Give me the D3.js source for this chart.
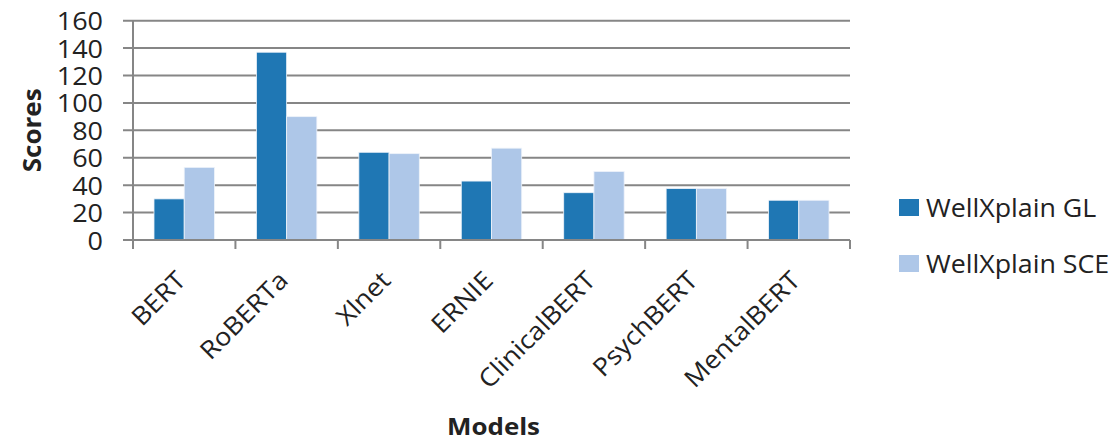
<!DOCTYPE html>
<html>
<head>
<meta charset="utf-8">
<script src="https://cdn.jsdelivr.net/npm/d3@7"></script>
<style>
  html, body { margin: 0; padding: 0; background: #fff; }
  svg { display: block; font-family: "Open Sans", sans-serif; }
</style>
</head>
<body>
<svg id="chart" width="1120" height="441"></svg>
<script>
// Model names along the x axis
const models = ["BERT", "RoBERTa", "Xlnet", "ERNIE", "ClinicalBERT", "PsychBERT", "MentalBERT"];
// Series names and their scores per model
const seriesNames = ["WellXplain GL", "WellXplain SCE"];
const glScores = [30, 137, 64, 43, 34.5, 37.5, 29];
const sceScores = [53, 90, 63, 67, 50, 37.5, 29];
// Y axis tick values
const yTicks = [0, 20, 40, 60, 80, 100, 120, 140, 160];

const colors = ["#1f77b4", "#aec7e8"];
const gridColor = "#868686";
const textColor = "#222";
const stretch = 1.08; // slightly wide lettering

const svg = d3.select("#chart");
const plotLeft = 133, plotRight = 850, plotTop = 20.7, plotBottom = 240;

const x = d3.scaleBand().domain(models).range([plotLeft, plotRight]).padding(0);
const bw = x.bandwidth();
const xs = d3.scaleBand().domain(seriesNames).range([bw * 0.205, bw * 0.795]).padding(0);
const y = d3.scaleLinear().domain([0, 160]).range([plotBottom, plotTop]);

const rows = models.map((m, i) => ({ model: m, values: [glScores[i], sceScores[i]] }));

// Horizontal gridlines (with short ticks left of the axis)
svg.append("g")
  .selectAll("line")
  .data(yTicks)
  .join("line")
  .attr("x1", plotLeft - 10)
  .attr("x2", plotRight)
  .attr("y1", d => y(d))
  .attr("y2", d => y(d))
  .attr("stroke", gridColor)
  .attr("stroke-width", 2);

// Y axis labels
const yAxis = svg.append("g")
  .attr("transform", `translate(${plotLeft},0)`)
  .call(d3.axisLeft(y).tickValues(yTicks).tickSize(0));
yAxis.select(".domain").remove();
yAxis.selectAll("text")
  .attr("x", 0)
  .attr("transform", `translate(-30,1) scale(${stretch},1)`)
  .attr("fill", textColor)
  .style("font-size", "25px")
  .style("font-family", "'Open Sans', sans-serif");

// Bars
const groups = svg.append("g")
  .selectAll("g")
  .data(rows)
  .join("g")
  .attr("transform", d => `translate(${x(d.model)},0)`);

groups.selectAll("rect")
  .data(d => d.values.map((v, j) => ({ key: seriesNames[j], value: v, j })))
  .join("rect")
  .attr("x", d => xs(d.key))
  .attr("width", xs.bandwidth())
  .attr("y", d => y(d.value))
  .attr("height", d => y(0) - y(d.value))
  .attr("fill", d => colors[d.j])
  .attr("stroke", "#eef3fa")
  .attr("stroke-width", 0.8);

// Axis lines
svg.append("line")
  .attr("x1", plotLeft).attr("x2", plotLeft)
  .attr("y1", plotTop).attr("y2", plotBottom)
  .attr("stroke", gridColor).attr("stroke-width", 2);
svg.append("line")
  .attr("x1", plotLeft - 10).attr("x2", plotRight)
  .attr("y1", plotBottom).attr("y2", plotBottom)
  .attr("stroke", gridColor).attr("stroke-width", 2);

// Category boundary ticks
const bounds = models.map(m => x(m)).concat([plotRight]);
svg.append("g")
  .selectAll("line")
  .data(bounds)
  .join("line")
  .attr("x1", d => d).attr("x2", d => d)
  .attr("y1", plotBottom).attr("y2", plotBottom + 9)
  .attr("stroke", gridColor).attr("stroke-width", 2);

// Rotated category labels, ending under each category centre
svg.append("g")
  .selectAll("text")
  .data(models)
  .join("text")
  .attr("transform", d => `translate(${x(d) + bw / 2 + 3},${plotBottom + 42}) rotate(-45) scale(${stretch},1)`)
  .attr("text-anchor", "end")
  .attr("fill", textColor)
  .style("font-size", "25px")
  .text(d => d);

// Axis titles
svg.append("text")
  .attr("transform", `translate(41,${(plotTop + plotBottom) / 2}) rotate(-90) scale(1.04,1)`)
  .attr("text-anchor", "middle")
  .attr("fill", textColor)
  .style("font-size", "25px")
  .style("font-weight", "bold")
  .text("Scores");

svg.append("text")
  .attr("transform", `translate(${(plotLeft + plotRight) / 2 + 2},435) scale(${stretch},1)`)
  .attr("text-anchor", "middle")
  .attr("fill", textColor)
  .style("font-size", "24px")
  .style("font-weight", "bold")
  .text("Models");

// Legend
const legend = svg.append("g")
  .selectAll("g")
  .data(seriesNames)
  .join("g")
  .attr("transform", (d, i) => `translate(899,${199 + i * 56})`);
legend.append("rect")
  .attr("width", 20).attr("height", 17)
  .attr("fill", (d, i) => colors[i]);
legend.append("text")
  .attr("transform", "translate(27,18) scale(1.03,1)")
  .attr("fill", textColor)
  .style("font-size", "26px")
  .text(d => d);
</script>
</body>
</html>
